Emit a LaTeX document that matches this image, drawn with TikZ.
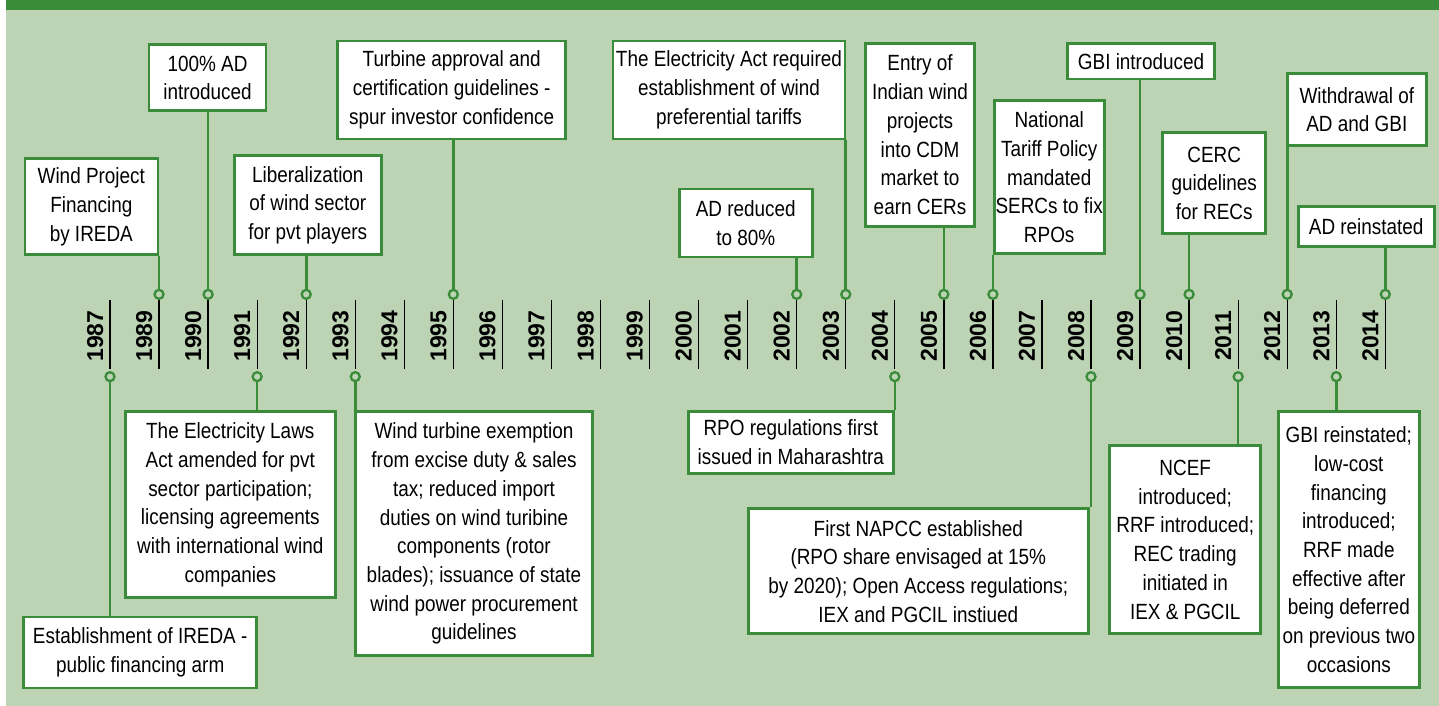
\documentclass[tikz,border=0pt]{standalone}
\usepackage{fontspec}
\setmainfont{Liberation Sans}[FakeStretch=0.86]
\newfontfamily\yearfont{Liberation Sans}
\usetikzlibrary{positioning}
\definecolor{bandgreen}{RGB}{58,140,58}
\definecolor{paper}{RGB}{188,211,180}
\tikzstyle{event} = [rectangle, draw=bandgreen, line width=2.6pt, fill=white, align=center, inner sep=0pt, font=\fontsize{22}{28.7}\selectfont]
\tikzstyle{yearline} = [draw=black, line width=1.3pt]
\tikzstyle{yearmark} = [circle, draw=bandgreen, line width=2.3pt, fill=paper, minimum size=9pt, inner sep=0pt]
\tikzstyle{link} = [draw=bandgreen, line width=2.6pt]
\tikzstyle{yearlabel} = [rotate=90, anchor=base, inner sep=0pt, font=\yearfont\bfseries\fontsize{23}{23}\selectfont]

\begin{document}
\begin{tikzpicture}[x=1pt, y=-1pt]

% background
\fill[white] (0,0) rectangle (1439,706);
\fill[paper] (6,10) rectangle (1439,706);
\fill[bandgreen] (6,0) rectangle (1439,10);

% time axis
\foreach \yr [count=\i from 0] in {1987,1989,1990,1991,1992,1993,1994,1995,1996,1997,1998,1999,2000,2001,2002,2003,2004,2005,2006,2007,2008,2009,2010,2011,2012,2013,2014} {
  \coordinate (t\yr) at (110+\i*49.05, 300);
  \coordinate (b\yr) at (110+\i*49.05, 371);
  \draw[yearline] (t\yr) -- ([yshift=1.7pt]b\yr);
  \node[yearlabel] (y\yr) at (103+\i*49.05, 336) {\yr};
}

% events above the axis
\node (wpf) [event, minimum width=133pt, minimum height=96pt] at (91.3,206.7) {Wind Project\\Financing\\by IREDA};
\node (ad100) [event, minimum width=117pt, minimum height=66pt] at (207.5,77.8) {100\% AD\\introduced};
\node (lib) [event, minimum width=147pt, minimum height=99pt] at (307.8,205.2) {Liberalization\\of wind sector\\for pvt players};
\node (turb) [event, minimum width=228pt, minimum height=98pt] at (451.7,90) {Turbine approval and\\certification guidelines -\\spur investor confidence};
\node (eact) [event, minimum width=232pt, minimum height=98pt] at (729,90) {The Electricity Act required\\establishment of wind\\preferential tariffs};
\node (ad80) [event, minimum width=133pt, minimum height=68pt] at (745.8,222.8) {AD reduced\\to 80\%};
\node (cdm) [event, minimum width=109pt, minimum height=183pt] at (920,134.8) {Entry of\\Indian wind\\projects\\into CDM\\market to\\earn CERs};
\node (ntp) [event, minimum width=110pt, minimum height=153pt] at (1049.2,177.2) {National\\Tariff Policy\\mandated\\SERCs to fix\\RPOs};
\node (gbi) [event, minimum width=147pt, minimum height=35.5pt] at (1141,61.2) {GBI introduced};
\node (cerc) [event, minimum width=103pt, minimum height=101pt] at (1214.2,183.2) {CERC\\guidelines\\for RECs};
\node (wd) [event, minimum width=139pt, minimum height=72pt] at (1356.8,109.7) {Withdrawal of\\AD and GBI};
\node (adr) [event, minimum width=136pt, minimum height=39.5pt] at (1366.2,226.5) {AD reinstated};

% events below the axis
\node (ireda) [event, minimum width=233pt, minimum height=71pt] at (140.2,652.5) {Establishment of IREDA -\\public financing arm};
\node (ela) [event, minimum width=210pt, minimum height=186pt] at (230.3,504.7) {The Electricity Laws\\Act amended for pvt\\sector participation;\\licensing agreements\\with international wind\\companies};
\node (wte) [event, minimum width=237pt, minimum height=244pt] at (474,533.7) {Wind turbine exemption\\from excise duty \& sales\\tax; reduced import\\duties on wind turibine\\components (rotor\\blades); issuance of state\\wind power procurement\\guidelines};
\node (rpo) [event, minimum width=205pt, minimum height=62pt] at (790.8,442.3) {RPO regulations first\\issued in Maharashtra};
\node (napcc) [event, minimum width=340pt, minimum height=125pt] at (918.3,571.2) {First NAPCC established\\(RPO share envisaged at 15\%\\by 2020); Open Access regulations;\\IEX and PGCIL instiued};
\node (ncef) [event, minimum width=151pt, minimum height=188pt] at (1185.2,539.7) {NCEF\\introduced;\\RRF introduced;\\REC trading\\initiated in\\IEX \& PGCIL};
\node (gbir) [event, minimum width=141pt, minimum height=276pt] at (1348.8,549.7) {GBI reinstated;\\low-cost\\financing\\introduced;\\RRF made\\effective after\\being deferred\\on previous two\\occasions};

% markers and links, top
\foreach \yr/\ev in {1989/wpf,1990/ad100,1992/lib,1995/turb,2002/ad80,2003/eact,2005/cdm,2006/ntp,2009/gbi,2010/cerc,2012/wd,2014/adr} {
  \node (mk\yr) [yearmark, above=0pt of t\yr] {};
  \draw[link] (mk\yr.north) -- (mk\yr.north |- \ev.south);
}

% markers and links, bottom
\foreach \yr/\ev in {1987/ireda,1991/ela,1993/wte,2004/rpo,2008/napcc,2011/ncef,2013/gbir} {
  \node (mk\yr) [yearmark, below=0pt of b\yr] {};
  \draw[link] (mk\yr.south) -- (mk\yr.south |- \ev.north);
}

\end{tikzpicture}
\end{document}
